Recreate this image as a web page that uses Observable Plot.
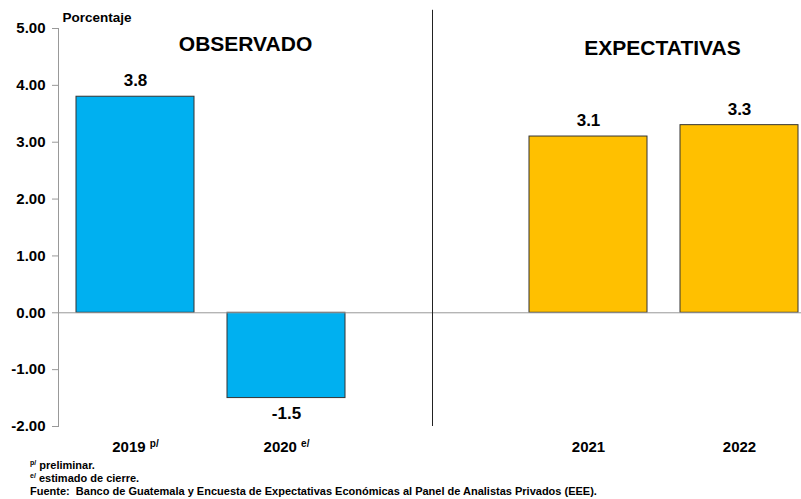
<!DOCTYPE html>
<html><head><meta charset="utf-8">
<script src="https://cdn.jsdelivr.net/npm/d3@7"></script>
<script src="https://cdn.jsdelivr.net/npm/@observablehq/plot@0.6"></script>
<style>
body{margin:0;background:#fff;font-family:"Liberation Sans",Arial,sans-serif;}
#notes{position:absolute;left:30px;top:459px;font-size:11px;font-weight:bold;line-height:13px;color:#000;}
#notes sup{font-size:7px;vertical-align:4px;line-height:0;}
</style></head>
<body>
<div id="chart"></div>
<div id="notes">
<div><sup>p/</sup> preliminar.</div>
<div><sup>e/</sup> estimado de cierre.</div>
<div>Fuente:&nbsp; Banco de Guatemala y Encuesta de Expectativas Económicas al Panel de Analistas Privados (EEE).</div>
</div>
<script>
const observedYears = ["2019", "2020"];
const observedValues = [3.8, -1.5];
const expectedYears = ["2021", "2022"];
const expectedValues = [3.1, 3.3];
const gapCategory = "gap";
const superscripts = {"2019": "p/", "2020": "e/"};
const groups = ["OBSERVADO", "EXPECTATIVAS"];
const yTicks = [-2, -1, 0, 1, 2, 3, 4, 5];
const dividerTop = 5.32;

const data = [
  ...observedYears.map((y, i) => ({year: y, value: observedValues[i], group: groups[0]})),
  ...expectedYears.map((y, i) => ({year: y, value: expectedValues[i], group: groups[1]}))
];
const domain = [...observedYears, gapCategory, ...expectedYears];
const font = "Liberation Sans, Arial, sans-serif";
const fmt2 = v => d3.format(".2f")(v).replace("\u2212", "-");
const fmt1 = v => d3.format(".1f")(v).replace("\u2212", "-");

const chart = Plot.plot({
  width: 801,
  height: 458,
  marginLeft: 58,
  marginTop: 28,
  marginBottom: 32,
  marginRight: 0,
  style: {fontFamily: font, background: "#fff", overflow: "visible"},
  x: {domain, range: [58, 816], paddingInner: 0.22, paddingOuter: 0.11, label: null, axis: null},
  y: {domain: [-2, 5], label: null, axis: null},
  color: {domain: groups, range: ["#00B0F0", "#FFC000"]},
  marks: [
    Plot.axisY({ticks: yTicks, tickFormat: fmt2, tickSize: 6, tickPadding: 7,
      stroke: "#999", fill: "#000", fontSize: 15, fontWeight: "bold", label: null}),
    Plot.frame({anchor: "left", stroke: "#999"}),
    Plot.axisX({tickSize: 0, tickPadding: 15, fontSize: 15, fontWeight: "bold", fill: "#000",
      label: null, tickFormat: d => d === gapCategory ? "" : d}),
    Plot.barY(data, {x: "year", y: "value", fill: "group", stroke: "#333", strokeWidth: 1}),
    Plot.ruleY([0], {stroke: "#999", strokeWidth: 1}),
    Plot.ruleX([gapCategory], {y1: -2, y2: dividerTop, dx: -5, stroke: "#222", strokeWidth: 1}),
    Plot.text(data, {x: "year", y: "value", text: d => fmt1(d.value),
      lineAnchor: "middle", fontSize: 17, fontWeight: "bold", fill: "#000",
      filter: d => d.value >= 0, dy: -16}),
    Plot.text(data, {x: "year", y: "value", text: d => fmt1(d.value), lineAnchor: "middle",
      fontSize: 17, fontWeight: "bold", fill: "#000", filter: d => d.value < 0, dy: 15}),
    Plot.text([groups[0]], {x: [observedYears[1]], frameAnchor: "top", lineAnchor: "middle", dy: 16, dx: -41,
      text: d => d, fontSize: 21, fontWeight: "bold", fill: "#000"}),
    Plot.text([groups[1]], {x: [expectedYears[1]], frameAnchor: "top", lineAnchor: "middle", dy: 20, dx: -77,
      text: d => d, fontSize: 21, fontWeight: "bold", fill: "#000", letterSpacing: "0.4px"}),
    Plot.text(["Porcentaje"], {frameAnchor: "top-left", textAnchor: "start", lineAnchor: "middle", dx: 4, dy: -11,
      text: d => d, fontSize: 13.5, fontWeight: "bold", fill: "#000"})
  ]
});
document.getElementById("chart").appendChild(chart);

d3.select(chart).selectAll("g[aria-label='x-axis tick label'] text").each(function(d) {
  const t = d3.select(this);
  const label = t.text();
  if (superscripts[label]) {
    t.text(label + " ");
    t.append("tspan").attr("font-size", 10).attr("dy", "-0.5em").text(superscripts[label]);
  }
});
</script>
</body></html>
